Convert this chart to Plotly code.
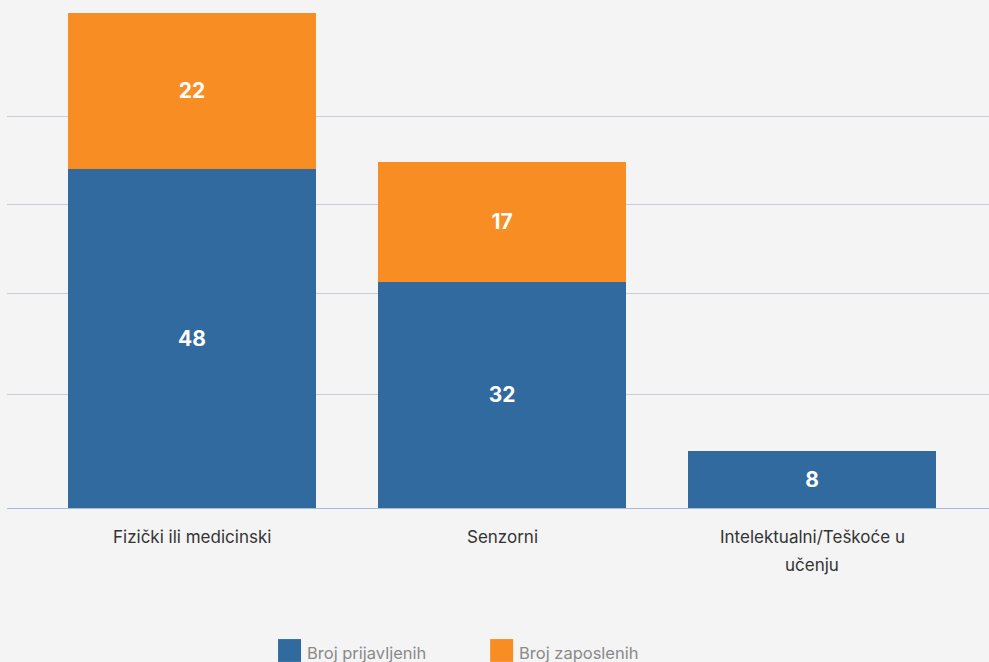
import plotly.graph_objects as go

# Categories and series values
categories = ["Fizički ili medicinski", "Senzorni", "Intelektualni/Teškoće u učenju"]
category_lines = [["Fizički ili medicinski"], ["Senzorni"], ["Intelektualni/Teškoće u", "učenju"]]
series_names = ["Broj prijavljenih", "Broj zaposlenih"]
prijavljeni = [48, 32, 8]
zaposleni = [22, 17, None]

blue = "#316a9e"
orange = "#f88d23"
bg = "#f4f4f4"
font_family = "Inter, 'Open Sans', sans-serif"

fig = go.Figure()
for name, vals, color in [(series_names[0], prijavljeni, blue), (series_names[1], zaposleni, orange)]:
    fig.add_trace(go.Bar(
        x=categories, y=vals, name=name,
        marker=dict(color=color, line=dict(width=0)),
        texttemplate="%{y}", textposition="inside", insidetextanchor="middle",
        textfont=dict(color="white", size=21, family=font_family, weight="bold"),
        showlegend=False, hoverinfo="x+y+name",
    ))

fig.update_layout(
    barmode="stack", bargap=0.2,
    width=989, height=662,
    paper_bgcolor=bg, plot_bgcolor=bg,
    margin=dict(l=7, r=0, t=0, b=154),
    font=dict(family=font_family, color="#333333", size=16),
    xaxis=dict(
        type="category", range=[-0.597, 2.571],
        showticklabels=False,
        showgrid=False, showline=False, zeroline=False, ticks="",
    ),
    yaxis=dict(
        range=[0, 71.84], tickvals=[16.1, 30.4, 42.9, 55.3],
        showticklabels=False, gridcolor="#c6ccd8", gridwidth=1,
        zeroline=True, zerolinecolor="#a9bcd9", zerolinewidth=1,
        showline=False,
    ),
)

# Category labels under each bar, with generous line spacing
for cat, lines in zip(categories, category_lines):
    for i, line in enumerate(lines):
        fig.add_annotation(xref="x", yref="paper", x=cat, y=0,
                           yshift=-29 - 28 * i, yanchor="middle",
                           text=line, showarrow=False,
                           font=dict(size=17, color="#333333", family=font_family))

# Legend drawn as coloured squares with labels below the axis
legend_x = [0.276, 0.492]
for name, color, lx in zip(series_names, [blue, orange], legend_x):
    fig.add_shape(type="rect", xref="paper", yref="paper",
                  x0=lx, x1=lx + 23 / 982, y0=-0.303, y1=-0.258,
                  fillcolor=color, line=dict(width=0))
    fig.add_annotation(xref="paper", yref="paper", x=lx + 27 / 982, y=-0.285,
                       text=name, showarrow=False, xanchor="left", yanchor="middle",
                       font=dict(size=16.5, color="#8a8a8a", family=font_family))

fig.write_html("out.html")
